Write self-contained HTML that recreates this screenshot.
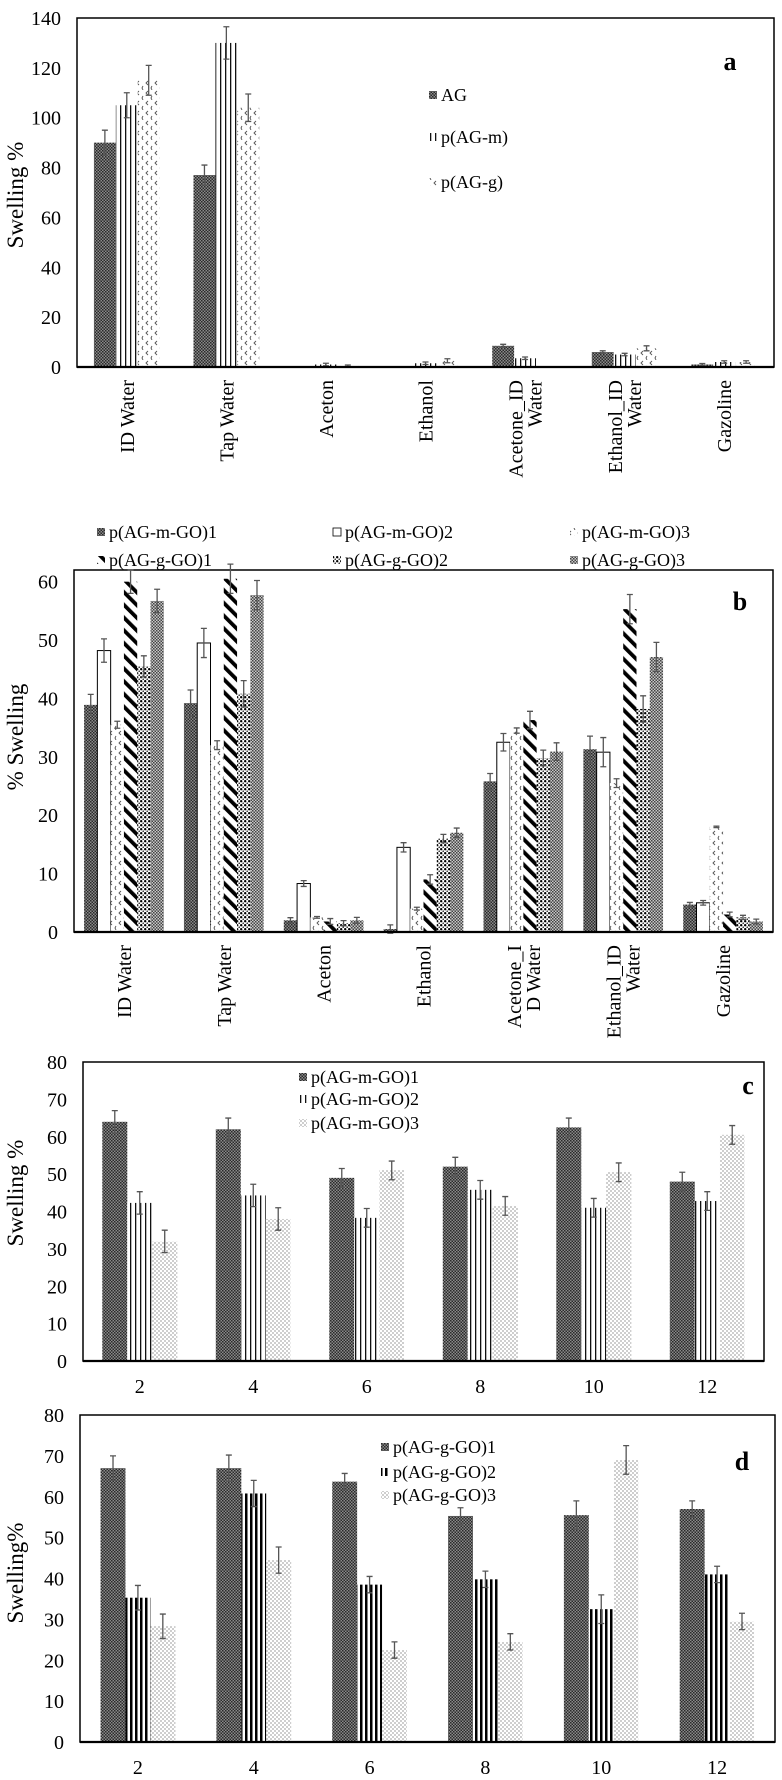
<!DOCTYPE html>
<html><head><meta charset="utf-8">
<style>
html,body{margin:0;padding:0;background:#fff;}
svg, svg text{display:block;font-family:"Liberation Serif","DejaVu Serif","Times New Roman",serif;}
</style></head>
<body>
<svg id="fig" xmlns="http://www.w3.org/2000/svg" width="782" height="1780" viewBox="0 0 782 1780" font-family="Liberation Serif, DejaVu Serif, serif">
<defs>
  <pattern id="pDark" width="3" height="3" patternUnits="userSpaceOnUse"><rect width="3" height="3" fill="#8a8a8a"/><rect width="1.5" height="1.5" fill="#2a2a2a"/><rect x="1.5" y="1.5" width="1.5" height="1.5" fill="#2a2a2a"/></pattern>
  <pattern id="pVStripe" width="5" height="5" patternUnits="userSpaceOnUse"><rect width="5" height="5" fill="#fff"/><rect x="0" width="1.3" height="5" fill="#111"/></pattern>
  <pattern id="pChev" width="9" height="10" patternUnits="userSpaceOnUse"><rect width="9" height="10" fill="#fff"/><path d="M4 1 L2 3 L4 5" stroke="#555" stroke-width="0.9" fill="none"/><path d="M8 6 L7 8 L8 10" stroke="#555" stroke-width="0.9" fill="none"/></pattern>
  <pattern id="pOutline" width="4" height="4" patternUnits="userSpaceOnUse"><rect width="4" height="4" fill="#fff"/></pattern>
  <pattern id="pDiag" width="9" height="9" patternUnits="userSpaceOnUse" patternTransform="rotate(-45)"><rect width="9" height="9" fill="#fff"/><rect width="3.8" height="9" fill="#000"/></pattern>
  <pattern id="pBlackDots" width="4" height="4" patternUnits="userSpaceOnUse"><rect width="4" height="4" fill="#fff"/><circle cx="1.2" cy="1.2" r="1.2" fill="#000"/><circle cx="3.2" cy="3.2" r="0.8" fill="#222"/></pattern>
  <pattern id="pCross" width="3" height="3" patternUnits="userSpaceOnUse"><rect width="3" height="3" fill="#c8c8c8"/><rect width="1.5" height="1.5" fill="#444"/><rect x="1.5" y="1.5" width="1.5" height="1.5" fill="#444"/></pattern>
  <pattern id="pThick" width="5" height="5" patternUnits="userSpaceOnUse"><rect width="5" height="5" fill="#fff"/><rect width="2.5" height="5" fill="#000"/></pattern>
  <pattern id="pDots" width="4" height="4" patternUnits="userSpaceOnUse"><rect width="4" height="4" fill="#fff"/><circle cx="1" cy="1" r="0.6" fill="#555"/><circle cx="3" cy="3" r="0.6" fill="#555"/></pattern>
</defs>
</svg>
<script>
// ---------- Panel a data ----------
const aCats = [["ID Water"],["Tap Water"],["Aceton"],["Ethanol"],["Acetone_ID","Water"],["Ethanol_ID","Water"],["Gazoline"]];
const aSeriesNames = ["AG","p(AG-m)","p(AG-g)"];
const aAG = [90, 77, 0, 0, 8.5, 6, 1];
const aM = [105, 130, 1, 1.5, 3.5, 5, 2];
const aG = [115, 104, 0.5, 2.5, 0, 7.5, 2];
const aErrAG = [5, 4, 0, 0, 0.6, 0.5, 0.4];
const aErrM = [5, 6.5, 0.5, 0.5, 0.5, 0.5, 0.5];
const aErrG = [6, 5.5, 0.3, 0.8, 0, 1, 0.5];
const aTicks = [0,20,40,60,80,100,120,140];

// ---------- Panel b data ----------
const bCats = [["ID Water"],["Tap Water"],["Aceton"],["Ethanol"],["Acetone_I","D Water"],["Ethanol_ID","Water"],["Gazoline"]];
const bSeriesNames = ["p(AG-m-GO)1","p(AG-m-GO)2","p(AG-m-GO)3","p(AG-g-GO)1","p(AG-g-GO)2","p(AG-g-GO)3"];
const bM1 = [38.9, 39.2, 2, 0.5, 25.8, 31.3, 4.7];
const bM2 = [48.2, 49.5, 8.3, 14.5, 32.5, 30.8, 5];
const bM3 = [35.5, 32, 2.5, 4, 34.5, 25.5, 18];
const bG1 = [60, 60.5, 1.8, 9, 36.3, 55.3, 3];
const bG2 = [45.5, 40.8, 1.5, 16, 29.8, 38.2, 2.5];
const bG3 = [56.7, 57.7, 2, 17, 30.9, 47.1, 1.8];
const bErr = [2, 2.5, 0.5, 0.8, 1.5, 2.5, 0.4];
const bTicks = [0,10,20,30,40,50,60];

// ---------- Panel c data ----------
const cCats = ["2","4","6","8","10","12"];
const cSeriesNames = ["p(AG-m-GO)1","p(AG-m-GO)2","p(AG-m-GO)3"];
const cM1 = [64, 62, 49, 52, 62.5, 48];
const cM2 = [42.3, 44.3, 38.3, 45.8, 41, 42.8];
const cM3 = [32, 38, 51, 41.5, 50.5, 60.5];
const cErr = [3, 3, 2.5, 2.5, 2.5, 2.5];
const cTicks = [0,10,20,30,40,50,60,70,80];

// ---------- Panel d data ----------
const dCats = ["2","4","6","8","10","12"];
const dSeriesNames = ["p(AG-g-GO)1","p(AG-g-GO)2","p(AG-g-GO)3"];
const dG1 = [67, 67, 63.7, 55.3, 55.5, 57];
const dG2 = [35.3, 60.8, 38.5, 39.8, 32.5, 41];
const dG3 = [28.3, 44.5, 22.5, 24.5, 69, 29.5];
const dErr = [3, 3.2, 2, 2, 3.5, 2];
const dTicks = [0,10,20,30,40,50,60,70,80];

const NS = "http://www.w3.org/2000/svg";
const svg = document.getElementById("fig");
const FONT = "Liberation Serif, DejaVu Serif, serif";
function mk(tag, attrs, parent){
  const e = document.createElementNS(NS, tag);
  for (const k in attrs) e.setAttribute(k, attrs[k]);
  if (tag === "text") e.setAttribute("font-family", FONT);
  (parent||svg).appendChild(e);
  return e;
}

function drawPanel(p){
  const g = mk("g", {});
  
  
  const yScale = v => p.zero - (v / p.max) * (p.zero - p.top);
  const catW = (p.right - p.left) / p.cats.length;
  const xCenter = i => p.left + catW * (i + 0.5);
  const box = mk("rect", {x:p.left, y:p.top, width:p.right-p.left, height:p.zero-p.top, fill:"none", stroke:"#000", "stroke-width":1.5}, g);
  
  
  p.ticks.forEach(t => {
    const tx = mk("text", {x:p.left-16, y:yScale(t)+7, "text-anchor":"end", "font-size":20}, g);
    tx.textContent = t;
    
    
  });
  const n = p.series.length;
  const bw = catW * p.barFrac;
  p.series.forEach((vals, s) => {
    vals.forEach((v, i) => {
      const x0 = xCenter(i) - bw*n/2 + s*bw;
      if (v > 0) {
        const r = mk("rect", {x:x0, y:yScale(v), width:bw, height:p.zero - yScale(v), fill:"url(#"+p.fills[s]+")", stroke:p.strokes[s], "stroke-width":p.strokes[s]==="none"?0:1}, g);
        
        
      }
      const e = p.errs[s][i];
      if (e > 0) {
        const cx = x0 + bw/2;
        const eb = mk("path", {d:"M"+cx+" "+yScale(v-e)+" V"+yScale(v+e)+" M"+(cx-3)+" "+yScale(v+e)+" H"+(cx+3)+" M"+(cx-3)+" "+yScale(v-e)+" H"+(cx+3), stroke:"#555", "stroke-width":1.3, fill:"none"}, g);
        
        
      }
    });
  });
  const ax = mk("line", {x1:p.left, x2:p.right, y1:p.zero, y2:p.zero, stroke:"#000", "stroke-width":2.2}, g);
  
  
  p.cats.forEach((c, i) => {
    if (p.rotate) {
      c.forEach((ln, k) => {
        const xx = xCenter(i) + (k - (c.length-1)/2) * 19 + 7;
        const yy = p.zero + 13;
        const t = mk("text", {x:xx, y:yy, "text-anchor":"end", "font-size":20, transform:"rotate(-90 "+xx+" "+yy+")"}, g);
        t.textContent = ln;
        
        
      });
    } else {
      const t = mk("text", {x:xCenter(i), y:p.zero+32, "text-anchor":"middle", "font-size":20}, g);
      t.textContent = c;
      
      
    }
  });
  const yt = mk("text", {x:15, y:p.titleY, "text-anchor":"middle", "font-size":23, transform:"rotate(-90 15 "+p.titleY+")", dy:8}, g);
  yt.textContent = p.yTitle;
  
  
  const pl = mk("text", {x:p.letter[0], y:p.letter[1], "text-anchor":"middle", "font-size":26, "font-weight":"bold"}, g);
  pl.textContent = p.id;
  
  
  p.legend.forEach((L, s) => {
    const m = mk("rect", {x:L[0], y:L[1]-4, width:8, height:8, fill:"url(#"+p.fills[s]+")", stroke:p.strokes[s], "stroke-width":p.strokes[s]==="none"?0:0.8}, g);
    
    
    const t = mk("text", {x:L[0]+12, y:L[1]+6, "font-size":18}, g);
    t.textContent = p.names[s];
    
    
  });
}

drawPanel({id:"a", left:77, right:774, top:18, zero:367, max:140, ticks:aTicks, cats:aCats, rotate:true,
  series:[aAG,aM,aG], errs:[aErrAG,aErrM,aErrG], names:aSeriesNames, barFrac:0.22,
  fills:["pDark","pVStripe","pChev"], strokes:["none","none","none"],
  yTitle:"Swelling %", titleY:195, letter:[730,70],
  legend:[[429,95],[429,137],[429,182]]});

drawPanel({id:"b", left:74, right:773, top:570, zero:932, max:62, ticks:bTicks, cats:bCats, rotate:true,
  series:[bM1,bM2,bM3,bG1,bG2,bG3], errs:[bErr.map(e=>e*0.9),bErr,bErr.map(e=>e*0.3),bErr,bErr.map(e=>e*0.9),bErr], names:bSeriesNames, barFrac:0.133,
  fills:["pDark","pOutline","pChev","pDiag","pBlackDots","pCross"], strokes:["none","#000","none","none","none","none"],
  yTitle:"% Swelling", titleY:737, letter:[740,610],
  legend:[[97,532],[333,532],[570,532],[97,560],[333,560],[570,560]]});

drawPanel({id:"c", left:83, right:764, top:1062, zero:1361, max:80, ticks:cTicks, cats:cCats, rotate:false,
  series:[cM1,cM2,cM3], errs:[cErr,cErr,cErr], names:cSeriesNames, barFrac:0.22,
  fills:["pDark","pVStripe","pDots"], strokes:["none","none","none"],
  yTitle:"Swelling %", titleY:1193, letter:[748,1094],
  legend:[[299,1077],[299,1099],[299,1123]]});

drawPanel({id:"d", left:80, right:775, top:1415, zero:1742, max:80, ticks:dTicks, cats:dCats, rotate:false,
  series:[dG1,dG2,dG3], errs:[dErr,dErr,dErr], names:dSeriesNames, barFrac:0.215,
  fills:["pDark","pThick","pDots"], strokes:["none","none","none"],
  yTitle:"Swelling%", titleY:1573, letter:[742,1470],
  legend:[[381,1447],[381,1472],[381,1495]]});
</script>
</body></html>
